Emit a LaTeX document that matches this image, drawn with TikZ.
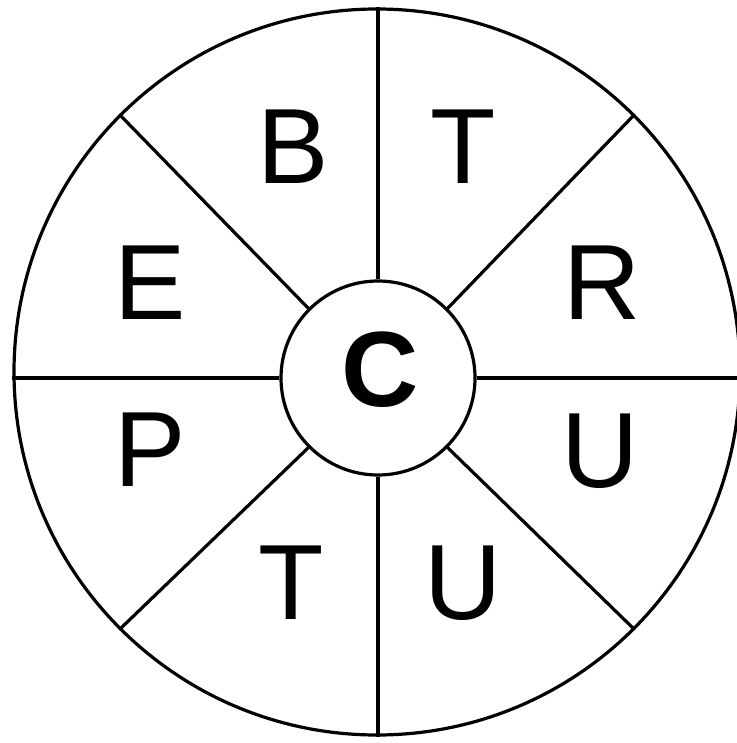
\documentclass[tikz,border=0pt]{standalone}
\usepackage{fontspec}
\setmainfont{Liberation Sans}
\begin{document}
\begin{tikzpicture}[x=1pt,y=-1pt,
  ring/.style={draw=black,line width=3.2pt,circle,inner sep=0pt},
  spoke/.style={draw=black,line width=3.2pt},
  letter/.style={inner sep=0pt,font=\fontsize{107}{107}\selectfont},
  hub/.style={inner sep=0pt,font=\fontsize{107}{107}\selectfont\bfseries}]
\useasboundingbox (0,0) rectangle (736,743);
\node[ring,minimum size=726pt] (O) at (377,372) {};
\node[ring,minimum size=194pt] (I) at (378,378) {};
\draw[spoke] (I.north) -- (I.north |- O.north);
\draw[spoke] (I.south) -- (I.south |- O.south);
\draw[spoke] (I.west) -- (I.west -| O.west);
\draw[spoke] (I.east) -- (I.east -| O.east);
\foreach \a in {45,135,225,315}
  \draw[spoke] (I.\a) -- (O.\a);
\node[hub] (c) at (380,370) {C};
\node[letter] (b) at (293,147) {B};
\node[letter] (t1) at (463,147) {T};
\node[letter] (r) at (602,283) {R};
\node[letter] (u1) at (600,451) {U};
\node[letter] (u2) at (463,583) {U};
\node[letter] (t2) at (291,583) {T};
\node[letter] (p) at (150,450) {P};
\node[letter] (e) at (150,283) {E};
\end{tikzpicture}
\end{document}
